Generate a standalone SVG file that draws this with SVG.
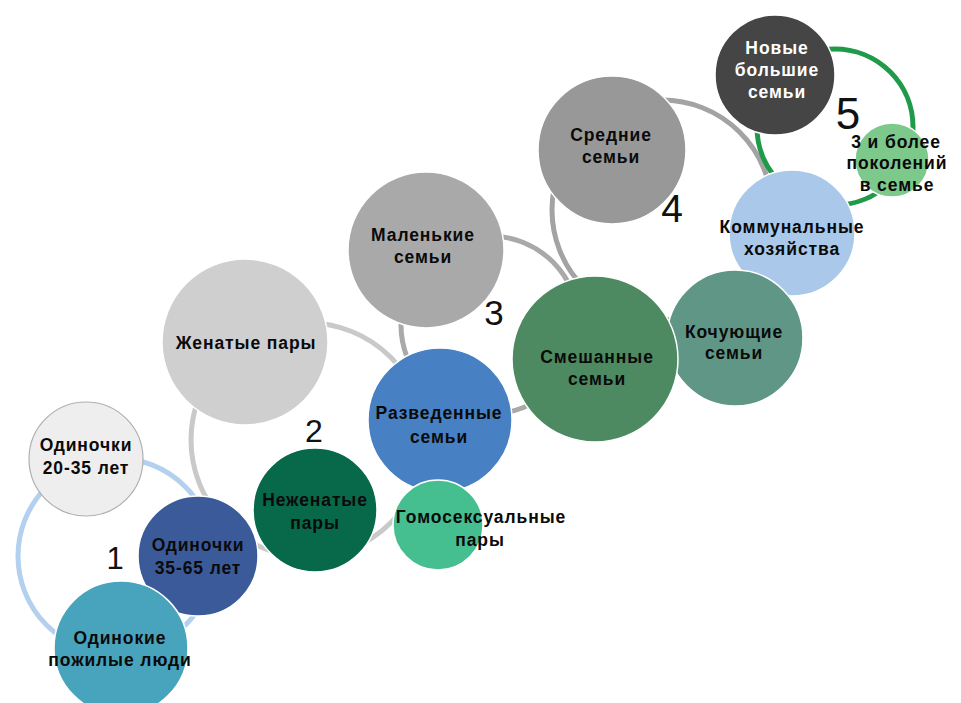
<svg xmlns="http://www.w3.org/2000/svg" width="961" height="703" viewBox="0 0 961 703">
<style>
.ring{fill:none;stroke-width:5}
.node{stroke:#ffffff;stroke-width:1.5}
.t{font-family:"Liberation Sans",Arial,sans-serif;font-weight:bold;font-size:17.5px;fill:#0a0a0a;text-anchor:middle;letter-spacing:0.9px}
.w{fill:#ffffff}
.num{font-family:"Liberation Sans",Arial,sans-serif;fill:#111;text-anchor:middle}
</style>
<rect width="961" height="703" fill="#ffffff"/>
<g id="connectors">
<circle class="ring" cx="116" cy="556" r="98" stroke="#b3d1ef"/>
<circle class="ring" cx="308" cy="440" r="117" stroke="#c9c9c9"/>
<circle class="ring" cx="490" cy="325" r="89" stroke="#a9a9a9"/>
<circle class="ring" cx="662" cy="210" r="110" stroke="#a3a3a3"/>
<circle class="ring" cx="835" cy="127" r="78" stroke="#1f9a49" stroke-width="4"/>
</g>
<g id="labels">
<text class="num" x="115" y="569" font-size="31">1</text>
<text class="num" x="314" y="442" font-size="32">2</text>
<text class="num" x="494" y="325" font-size="35">3</text>
<text class="num" x="672" y="222" font-size="39">4</text>
<text class="num" x="848" y="129" font-size="44">5</text>
</g>
<g id="n-single-20-35">
<circle cx="86" cy="459" r="57" fill="#eeeeee" stroke="#b0b0b0" stroke-width="1.2"/>
<text class="t" x="86" y="451">Одиночки</text>
<text class="t" x="86" y="474">20-35 лет</text>
</g>
<g id="n-single-35-65">
<circle class="node" cx="198" cy="556" r="60" fill="#3b5a99"/>
<text class="t" x="198" y="551">Одиночки</text>
<text class="t" x="198" y="574">35-65 лет</text>
</g>
<g id="n-elderly">
<circle class="node" cx="121" cy="648" r="67" fill="#48a3bc"/>
<text class="t" x="120" y="644">Одинокие</text>
<text class="t" x="120" y="666">пожилые люди</text>
</g>
<g id="n-married">
<circle class="node" cx="245" cy="342" r="83" fill="#cfcfcf"/>
<text class="t" x="246" y="349">Женатые пары</text>
</g>
<g id="n-unmarried">
<circle class="node" cx="315" cy="510" r="62" fill="#07694a"/>
<text class="t" x="315" y="506">Неженатые</text>
<text class="t" x="315" y="529">пары</text>
</g>
<g id="n-divorced">
<circle class="node" cx="440" cy="420" r="72" fill="#4781c3"/>
<text class="t" x="439" y="419">Разведенные</text>
<text class="t" x="439" y="443">семьи</text>
</g>
<g id="n-homosexual">
<circle class="node" cx="438" cy="525" r="45" fill="#45be90"/>
<text class="t" x="481" y="523">Гомосексуальные</text>
<text class="t" x="480" y="546">пары</text>
</g>
<g id="n-small">
<circle class="node" cx="426" cy="250" r="78" fill="#a9a9a9"/>
<text class="t" x="423" y="241">Маленькие</text>
<text class="t" x="423" y="263">семьи</text>
</g>
<g id="n-medium">
<circle class="node" cx="612" cy="150" r="74" fill="#989898"/>
<text class="t" x="611" y="141">Средние</text>
<text class="t" x="611" y="163">семьи</text>
</g>
<g id="n-communal">
<circle class="node" cx="792" cy="233" r="63" fill="#a9c8ea"/>
<text class="t" x="792" y="233">Коммунальные</text>
<text class="t" x="792" y="255">хозяйства</text>
</g>
<g id="n-nomadic">
<circle class="node" cx="735" cy="338" r="68" fill="#609686"/>
<text class="t" x="734" y="338">Кочующие</text>
<text class="t" x="734" y="359">семьи</text>
</g>
<g id="n-mixed">
<circle class="node" cx="595" cy="359" r="83" fill="#4e8a61"/>
<text class="t" x="597" y="363">Смешанные</text>
<text class="t" x="597" y="385">семьи</text>
</g>
<g id="n-new-large">
<circle class="node" cx="775" cy="75" r="60" fill="#454545"/>
<text class="t w" x="777" y="54">Новые</text>
<text class="t w" x="777" y="76">большие</text>
<text class="t w" x="777" y="98">семьи</text>
</g>
<g id="n-generations">
<circle class="node" cx="892" cy="160" r="37" fill="#7dc98c"/>
<text class="t" x="896" y="148">3 и более</text>
<text class="t" x="897" y="169">поколений</text>
<text class="t" x="897" y="191">в семье</text>
</g>
</svg>
